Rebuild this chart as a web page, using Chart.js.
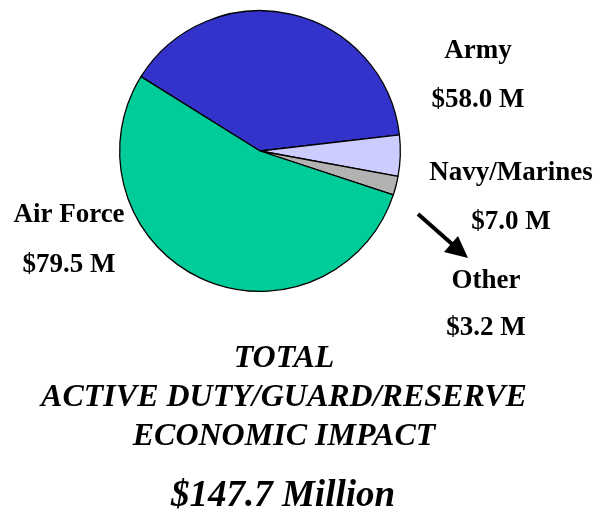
<!DOCTYPE html>
<html>
<head>
<meta charset="utf-8">
<script src="https://cdn.jsdelivr.net/npm/chart.js@4"></script>
<style>
  html, body { margin: 0; padding: 0; background: #fff; }
  #wrap { width: 595px; height: 518px; position: relative; }
</style>
</head>
<body>
<div id="wrap"><canvas id="c"></canvas></div>
<script>
// data
const branches = ["Army", "Navy/Marines", "Other", "Air Force"];
const impact = [58.0, 7.0, 3.2, 79.5];
const valueLabels = ["$58.0 M", "$7.0 M", "$3.2 M", "$79.5 M"];
const sliceColors = ["#3333CC", "#CCCCFF", "#B2B2B2", "#00CC99"];
const titleLines = ["TOTAL", "ACTIVE DUTY/GUARD/RESERVE", "ECONOMIC IMPACT"];
const totalLabel = "$147.7 Million";

// where each branch label sits (name line, value line)
const labelSpots = [
    { x: 478, y: 51, y2: 100 },
    { x: 511, y: 173, y2: 222 },
    { x: 486, y: 281, y2: 328 },
    { x: 69, y: 215, y2: 265 }
];

const textPlugin = {
    id: 'texts',
    afterDraw(chart) {
        const ctx = chart.ctx;
        ctx.save();
        ctx.fillStyle = '#000';
        ctx.textAlign = 'center';
        ctx.textBaseline = 'middle';
        ctx.font = 'bold 27px "Liberation Serif"';
        branches.forEach((b, i) => {
            const p = labelSpots[i];
            ctx.fillText(b, p.x, p.y);
            ctx.fillText(valueLabels[i], p.x, p.y2);
        });

        // arrow pointing at the Other slice label
        ctx.strokeStyle = '#000';
        ctx.lineWidth = 4;
        ctx.beginPath();
        ctx.moveTo(418, 214);
        ctx.lineTo(452, 244);
        ctx.stroke();
        ctx.beginPath();
        ctx.moveTo(468, 258);
        ctx.lineTo(444, 252);
        ctx.lineTo(458, 236);
        ctx.closePath();
        ctx.fill();

        ctx.font = 'italic bold 32px "Liberation Serif"';
        ctx.fillText(titleLines[0], 284, 359);
        ctx.fillText(titleLines[1], 284, 398);
        ctx.fillText(titleLines[2], 284, 437);
        ctx.font = 'italic bold 37px "Liberation Serif"';
        ctx.fillText(totalLabel, 283, 496);
        ctx.restore();
    }
};

new Chart(document.getElementById('c'), {
    type: 'pie',
    data: {
        labels: branches,
        datasets: [{
            data: impact,
            backgroundColor: sliceColors,
            borderColor: '#000',
            borderWidth: 1.3
        }]
    },
    options: {
        responsive: true,
        maintainAspectRatio: false,
        animation: false,
        rotation: -58,
        layout: { padding: { top: 10, bottom: 226, left: 119, right: 194 } },
        plugins: {
            legend: { display: false },
            tooltip: { enabled: false },
            title: { display: false }
        }
    },
    plugins: [textPlugin]
});
</script>
</body>
</html>
